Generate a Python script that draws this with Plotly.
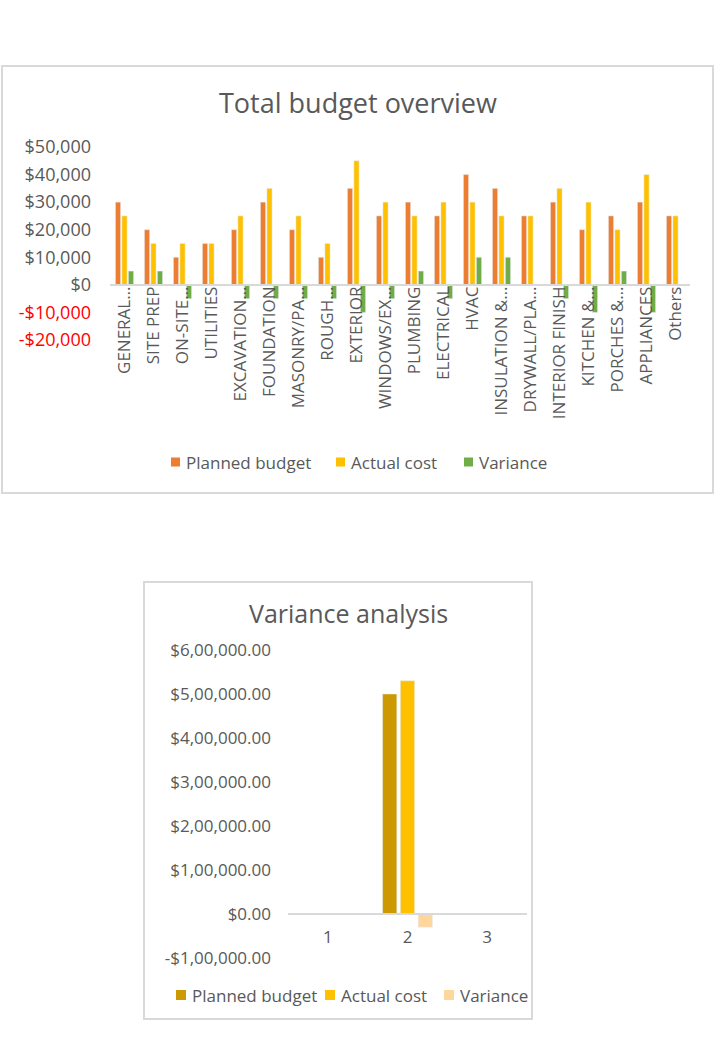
import plotly.graph_objects as go

W, H = 720, 1040

# ---------------- data: top chart ----------------
categories = ["GENERAL…", "SITE PREP", "ON-SITE…", "UTILITIES", "EXCAVATION…",
              "FOUNDATION", "MASONRY/PA…", "ROUGH…", "EXTERIOR", "WINDOWS/EX…",
              "PLUMBING", "ELECTRICAL", "HVAC", "INSULATION &…", "DRYWALL/PLA…",
              "INTERIOR FINISH", "KITCHEN &…", "PORCHES &…", "APPLIANCES", "Others"]
planned = [30000, 20000, 10000, 15000, 20000, 30000, 20000, 10000, 35000, 25000,
           30000, 25000, 40000, 35000, 25000, 30000, 20000, 25000, 30000, 25000]
actual = [25000, 15000, 15000, 15000, 25000, 35000, 25000, 15000, 45000, 30000,
          25000, 30000, 30000, 25000, 25000, 35000, 30000, 20000, 40000, 25000]
variance = [5000, 5000, -5000, 0, -5000, -5000, -5000, -5000, -10000, -5000,
            5000, -5000, 10000, 10000, 0, -5000, -10000, 5000, -10000, 0]
top_tickvals = [50000, 40000, 30000, 20000, 10000, 0, -10000, -20000]
top_ticktext = ["$50,000", "$40,000", "$30,000", "$20,000", "$10,000", "$0",
                "-$10,000", "-$20,000"]

# ---------------- data: bottom chart ----------------
va_categories = ["1", "2", "3"]
va_planned = [None, 500000, None]
va_actual = [None, 530000, None]
va_variance = [None, -30000, None]
bot_tickvals = [600000, 500000, 400000, 300000, 200000, 100000, 0, -100000]
bot_ticktext = ["$6,00,000.00", "$5,00,000.00", "$4,00,000.00", "$3,00,000.00",
                "$2,00,000.00", "$1,00,000.00", "$0.00", "-$1,00,000.00"]

series_names = ["Planned budget", "Actual cost", "Variance"]
top_colors = ["#ED7D31", "#FFC000", "#70AD47"]
bot_colors = ["#CC9A00", "#FFC000", "#FFD69C"]


def px(x):
    return x / W


def py(y):
    return 1 - y / H


GREY = "#595959"
FONT = "Open Sans"

fig = go.Figure()

for name, vals, col in zip(series_names, [planned, actual, variance], top_colors):
    fig.add_trace(go.Bar(x=categories, y=vals, name=name, marker_color=col,
                         xaxis="x", yaxis="y", showlegend=False))
for name, vals, col in zip(series_names, [va_planned, va_actual, va_variance], bot_colors):
    fig.add_trace(go.Bar(x=va_categories, y=vals, name=name, marker_color=col,
                         xaxis="x2", yaxis="y2", showlegend=False))

top_ticktext_col = [t if v >= 0 else f"<span style='color:#FF0000'>{t}</span>"
                    for t, v in zip(top_ticktext, top_tickvals)]

shapes = [
    dict(type="rect", xref="paper", yref="paper", x0=px(2), x1=px(713), y0=py(493), y1=py(66),
         line=dict(color="#D9D9D9", width=2), fillcolor="rgba(0,0,0,0)", layer="below"),
    dict(type="rect", xref="paper", yref="paper", x0=px(144), x1=px(532), y0=py(1019), y1=py(582),
         line=dict(color="#D9D9D9", width=2), fillcolor="rgba(0,0,0,0)", layer="below"),
]
annotations = [
    dict(text="Total budget overview", x=px(358), y=py(103), xref="paper", yref="paper",
         showarrow=False, font=dict(size=27, color=GREY), xanchor="center", yanchor="middle"),
    dict(text="Variance analysis", x=px(348), y=py(613), xref="paper", yref="paper",
         showarrow=False, font=dict(size=25, color=GREY), xanchor="center", yanchor="middle"),
]

# manual legends (square swatch + text)
top_leg_x = [171, 336, 464]
bot_leg_x = [176, 325, 444]
for xs, ycen, cols, size, sq in [(top_leg_x, 462, top_colors, 17, 9),
                                  (bot_leg_x, 995, bot_colors, 17, 10)]:
    for x0, name, col in zip(xs, series_names, cols):
        shapes.append(dict(type="rect", xref="paper", yref="paper",
                           x0=px(x0), x1=px(x0 + sq), y0=py(ycen + sq / 2), y1=py(ycen - sq / 2),
                           line=dict(width=0), fillcolor=col))
        annotations.append(dict(text=name, x=px(x0 + sq + 4), y=py(ycen), xref="paper",
                                yref="paper", showarrow=False, xanchor="left",
                                yanchor="middle", font=dict(size=size, color=GREY)))

fig.update_layout(
    width=W, height=H,
    margin=dict(l=0, r=0, t=0, b=0, autoexpand=False),
    paper_bgcolor="white", plot_bgcolor="rgba(0,0,0,0)",
    font=dict(family=FONT, color=GREY),
    barmode="group", bargap=0.33, bargroupgap=0.2,
    showlegend=False,
    xaxis=dict(domain=[px(110), px(690)], anchor="free", position=py(285),
               showline=True, linecolor="#D9D9D9", linewidth=1.5,
               tickangle=-90, tickfont=dict(size=17, color=GREY),
               ticks="", ticklabelstandoff=-6, automargin=False,
               showgrid=False, zeroline=False, fixedrange=True),
    yaxis=dict(domain=[py(340), py(147)], range=[-20000, 50000], anchor="x",
               tickvals=top_tickvals, ticktext=top_ticktext_col,
               tickfont=dict(size=18, color=GREY), ticklabelstandoff=18, automargin=False,
               showgrid=False, zeroline=False, showline=False, ticks=""),
    xaxis2=dict(domain=[px(288), px(527)], anchor="free", position=py(914),
                showline=True, linecolor="#D9D9D9", linewidth=1.5,
                tickfont=dict(size=17, color=GREY), ticks="",
                ticklabelstandoff=8, automargin=False,
                showgrid=False, zeroline=False),
    yaxis2=dict(domain=[py(958), py(650)], range=[-100000, 600000], anchor="x2",
                tickvals=bot_tickvals, ticktext=bot_ticktext,
                tickfont=dict(size=17, color=GREY), ticklabelstandoff=16, automargin=False,
                showgrid=False, zeroline=False, showline=False, ticks=""),
    annotations=annotations,
    shapes=shapes,
)

fig.write_html("out.html")
